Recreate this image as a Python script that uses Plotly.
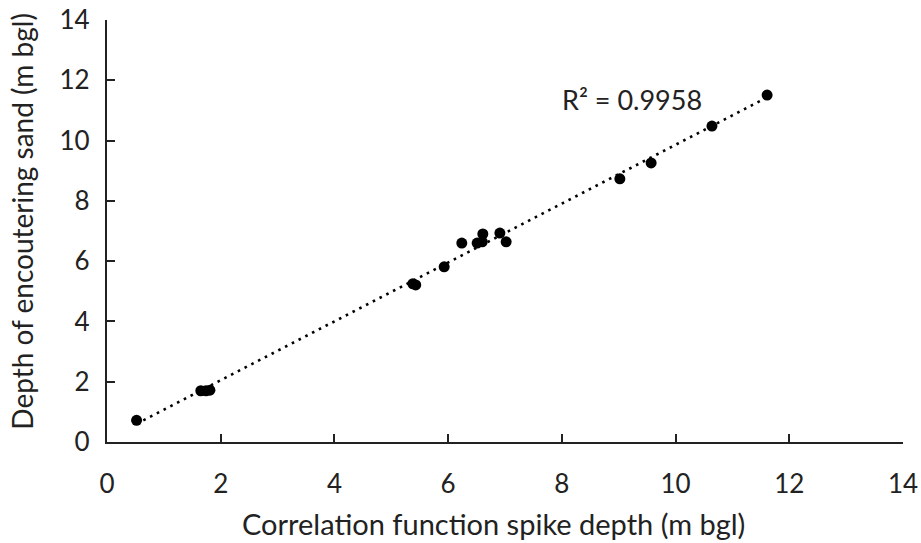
import numpy as np
import plotly.graph_objects as go

spike_depth = [0.52, 1.65, 1.74, 1.81, 5.38, 5.43, 5.93, 6.24, 6.51, 6.60, 6.61, 6.91, 7.02, 9.02, 9.57, 10.64, 11.61]
sand_depth = [0.72, 1.70, 1.70, 1.72, 5.25, 5.21, 5.81, 6.60, 6.60, 6.64, 6.90, 6.93, 6.64, 8.73, 9.26, 10.48, 11.51]
r2_label = "R² = 0.9958"
x_title = "Correlation function spike depth (m bgl)"
y_title = "Depth of encoutering sand (m bgl)"
ticks = [0, 2, 4, 6, 8, 10, 12, 14]

slope, intercept = np.polyfit(spike_depth, sand_depth, 1)
fit_x = [min(spike_depth), max(spike_depth)]
fit_y = [slope * v + intercept for v in fit_x]

FONT = "Lato"
INK = "#222"
fig = go.Figure()
fig.add_trace(go.Scatter(x=fit_x, y=fit_y, mode="lines",
                         line=dict(color="black", width=2.6, dash="2.6px,5px"),
                         hoverinfo="skip"))
fig.add_trace(go.Scatter(x=spike_depth, y=sand_depth, mode="markers",
                         marker=dict(color="black", size=11)))

fig.add_annotation(x=7.97, y=11.35, text=r2_label, showarrow=False,
                   xanchor="left", yanchor="middle",
                   font=dict(family=FONT, size=27, color=INK))
fig.add_annotation(xref="paper", yref="paper", x=0.485, y=-0.192, text=x_title,
                   showarrow=False, xanchor="center", yanchor="middle",
                   font=dict(family=FONT, size=29, color=INK))
fig.add_annotation(xref="paper", yref="paper", x=-0.107, y=0.524, text=y_title,
                   showarrow=False, xanchor="center", yanchor="middle", textangle=-90,
                   font=dict(family=FONT, size=28, color=INK))

axis_common = dict(range=[0, 14], tickvals=ticks, showgrid=False, zeroline=False,
                   showline=True, linecolor=INK, linewidth=2.2, mirror=False,
                   ticks="inside", ticklen=8, tickwidth=2, tickcolor=INK,
                   automargin=False,
                   tickfont=dict(family=FONT, size=26, color=INK))

fig.update_xaxes(**axis_common, ticklabelstandoff=18)
fig.update_yaxes(**axis_common, ticklabelstandoff=10)

fig.update_layout(width=921, height=543, showlegend=False,
                  margin=dict(l=107, r=18, t=20, b=101, autoexpand=False),
                  plot_bgcolor="white", paper_bgcolor="white")

fig.write_html("out.html")
